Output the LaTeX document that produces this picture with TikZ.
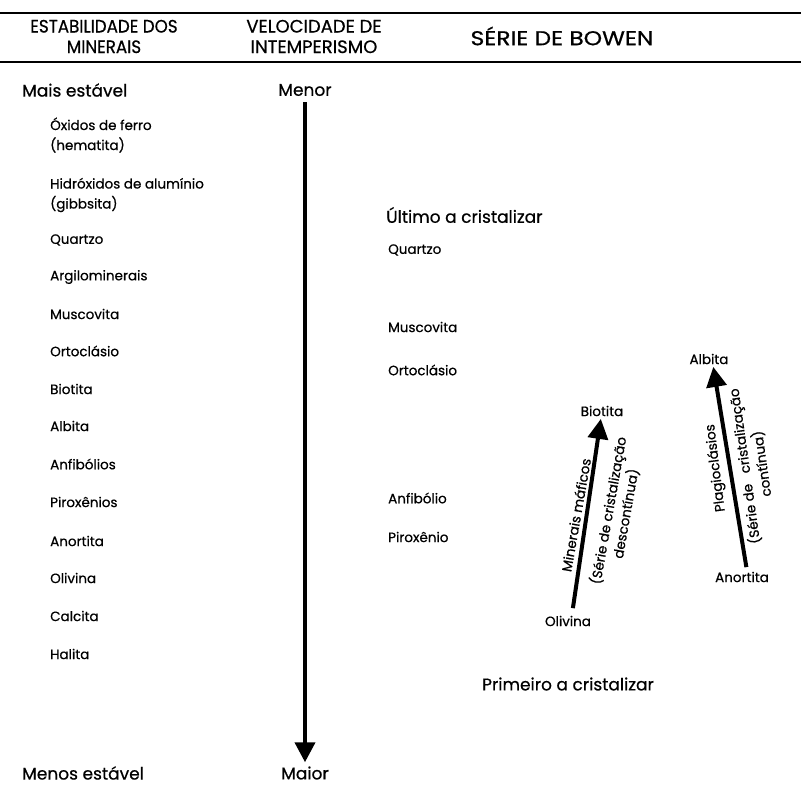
\documentclass[tikz,border=0pt]{standalone}
\usepackage{fontspec}
\setmainfont{Poppins}[FakeBold=0.6]
\usetikzlibrary{arrows.meta}
\begin{document}
\begin{tikzpicture}[x=1pt,y=-1pt,
  hdr/.style={font=\fontsize{18}{20.5}\selectfont, align=center, inner sep=0pt},
  big/.style={font=\fontsize{17}{20}\selectfont, inner sep=0pt},
  item/.style={font=\fontsize{13.5}{20}\selectfont, inner sep=0pt, anchor=west, align=left},
  rot/.style={font=\fontsize{13.5}{17.5}\selectfont, inner sep=0pt, align=center},
  rule/.style={line width=1.8pt},
  bigarrow/.style={line width=4pt, -{Triangle[width=20pt,length=20pt]}}]
\useasboundingbox (0,0) rectangle (801,797);
% header rules
\coordinate (r1a) at (0,13);
\coordinate (r1b) at (801,13);
\coordinate (r2a) at (0,62);
\coordinate (r2b) at (801,62);
\draw[rule] (r1a) -- (r1b);
\draw[rule] (r2a) -- (r2b);
% header texts
\node[hdr, xscale=0.93, transform shape] (h1) at (104,36.5) {ESTABILIDADE DOS\\MINERAIS};
\node[hdr] (h2) at (314,36.5) {VELOCIDADE DE\\INTEMPERISMO};
\node[hdr, font=\fontsize{20}{22}\selectfont, xscale=1.17, transform shape] (h3) at (562,36) {SÉRIE DE BOWEN};
% left column
\node[big, anchor=west] (mais) at (22,90) {Mais estável};
\node[big, anchor=west] (menos) at (22,773) {Menos estável};
\node[item] (oxi) at (50,135) {Óxidos de ferro\\(hematita)};
\node[item] (hid) at (50,195) {Hidróxidos de alumínio\\(gibbsita)};
\node[item] (qz) at (50,240) {Quartzo};
\node[item] (arg) at (50,277) {Argilominerais};
\node[item] (mus) at (50,314) {Muscovita};
\node[item] (ort) at (50,351) {Ortoclásio};
\node[item] (bio) at (50,389) {Biotita};
\node[item] (alb) at (50,426) {Albita};
\node[item] (anf) at (50,464) {Anfibólios};
\node[item] (pir) at (50,502) {Piroxênios};
\node[item] (ano) at (50,541) {Anortita};
\node[item] (oli) at (50,578) {Olivina};
\node[item] (cal) at (50,616) {Calcita};
\node[item] (hal) at (50,654) {Halita};
% middle column
\node[big] (menor) at (305,90) {Menor};
\node[big] (maior) at (305,773) {Maior};
\draw[bigarrow] (menor.south) ++(0,6) -- ([yshift=4pt]maior.north);
% right column
\node[big, anchor=west] (ultimo) at (386,215) {Último a cristalizar};
\node[item] (rqz) at (388,250) {Quartzo};
\node[item] (rmus) at (388,327) {Muscovita};
\node[item] (rort) at (388,370) {Ortoclásio};
\node[item] (ranf) at (388,498) {Anfibólio};
\node[item] (rpir) at (388,537) {Piroxênio};
\node[big] (primeiro) at (568,684) {Primeiro a cristalizar};
% Bowen arrows
\node[item, anchor=center] (olivina) at (568,621) {Olivina};
\node[item, anchor=center] (biotita) at (602,411) {Biotita};
\node[item, anchor=center] (anortita) at (742,577) {Anortita};
\node[item, anchor=center] (albita) at (709,359) {Albita};
\draw[bigarrow, shorten <=13pt, shorten >=8pt] ([xshift=3pt]olivina.center) -- (biotita.center);
\draw[bigarrow, shorten <=10pt, shorten >=8pt] ([xshift=6pt]anortita.center) -- ([xshift=3pt]albita.center);
% rotated labels
\node[rot, rotate=80] (maf) at (576,515) {Minerais máficos};
\node[rot, rotate=80] (desc) at (617,512) {(Série de cristalização\\descontínua)};
\node[rot, rotate=97] (plag) at (716,468) {Plagioclásios};
\node[rot, rotate=98] (cont) at (753,465) {(Série de \ \ cristalização\\contínua)};
\end{tikzpicture}
\end{document}
